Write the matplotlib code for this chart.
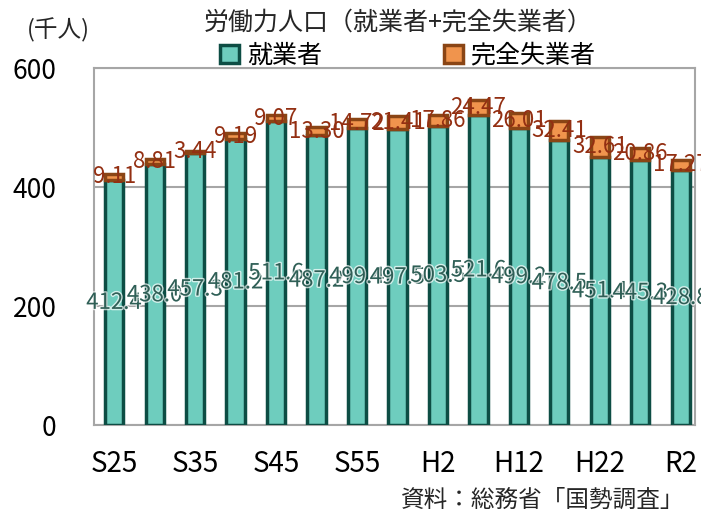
import matplotlib
matplotlib.use("Agg")
import matplotlib.pyplot as plt
import matplotlib.patheffects as pe

plt.rcParams['font.family'] = ['Noto Sans CJK JP', 'DejaVu Sans']

# 国勢調査の年次
years = ["S25", "S30", "S35", "S40", "S45", "S50", "S55", "S60",
         "H2", "H7", "H12", "H17", "H22", "H27", "R2"]
employed = [412.4, 438.0, 457.3, 481.2, 511.6, 487.2, 499.4, 497.5,
            503.5, 521.6, 499.2, 478.5, 451.4, 445.3, 428.8]
unemployed = [9.11, 8.81, 3.44, 9.19, 9.07, 13.30, 14.72, 21.41,
              17.86, 24.47, 26.01, 32.41, 32.61, 20.86, 17.27]
yticks = [0, 200, 400, 600]

fig = plt.figure(figsize=(7.01, 5.18), dpi=100)
ax = fig.add_axes([0.134, 0.1795, 0.8574, 0.689])

x = list(range(len(years)))
b1 = ax.bar(x, employed, width=0.45, color="#6ECDBE", edgecolor="#0D4D44",
            linewidth=2.5, zorder=3, label="就業者")
b2 = ax.bar(x, unemployed, bottom=employed, width=0.45, color="#F0944D",
            edgecolor="#8A4515", linewidth=2.5, zorder=3, label="完全失業者")

halo = [pe.withStroke(linewidth=2, foreground="white", alpha=0.7)]
for i in x:
    ax.text(i, employed[i] / 2, f"{employed[i]:.1f}", ha="center", va="center",
            fontsize=16, color="#2F5F56", zorder=5, path_effects=halo)
    ax.text(i, employed[i] + unemployed[i] / 2, f"{unemployed[i]:.2f}",
            ha="center", va="center", fontsize=16, color="#932F12", zorder=5)

ax.set_xlim(-0.5, 14.35)
ax.set_ylim(0, 600)
ax.set_yticks(yticks)
ax.set_yticklabels([str(v) for v in yticks], fontsize=19)
ax.set_xticks(x[::2])
ax.set_xticklabels(years[::2], fontsize=20)
ax.tick_params(axis="both", length=0)
ax.tick_params(axis="y", pad=27)
ax.tick_params(axis="x", pad=17)
ax.grid(axis="y", color="#A6A6A6", linewidth=1.5, zorder=0)
for s in ax.spines.values():
    s.set_color("#A6A6A6")
    s.set_linewidth(1.5)

fig.text(0.568, 0.957, "労働力人口（就業者+完全失業者）", ha="center", va="center",
         fontsize=18, color="#262626")
fig.text(0.083, 0.942, "(千人)", ha="center", va="center", fontsize=17,
         color="#262626")
fig.legend(handles=[b1, b2], loc="center", bbox_to_anchor=(0.582, 0.892),
           ncol=2, frameon=False, fontsize=18, handlelength=0.75,
           handleheight=0.75, handletextpad=0.3, columnspacing=4.9,
           borderpad=0, borderaxespad=0)
fig.text(0.976, 0.035, "資料：総務省「国勢調査」", ha="right", va="center",
         fontsize=17, color="#262626")

fig.savefig("out.png", dpi=100)
